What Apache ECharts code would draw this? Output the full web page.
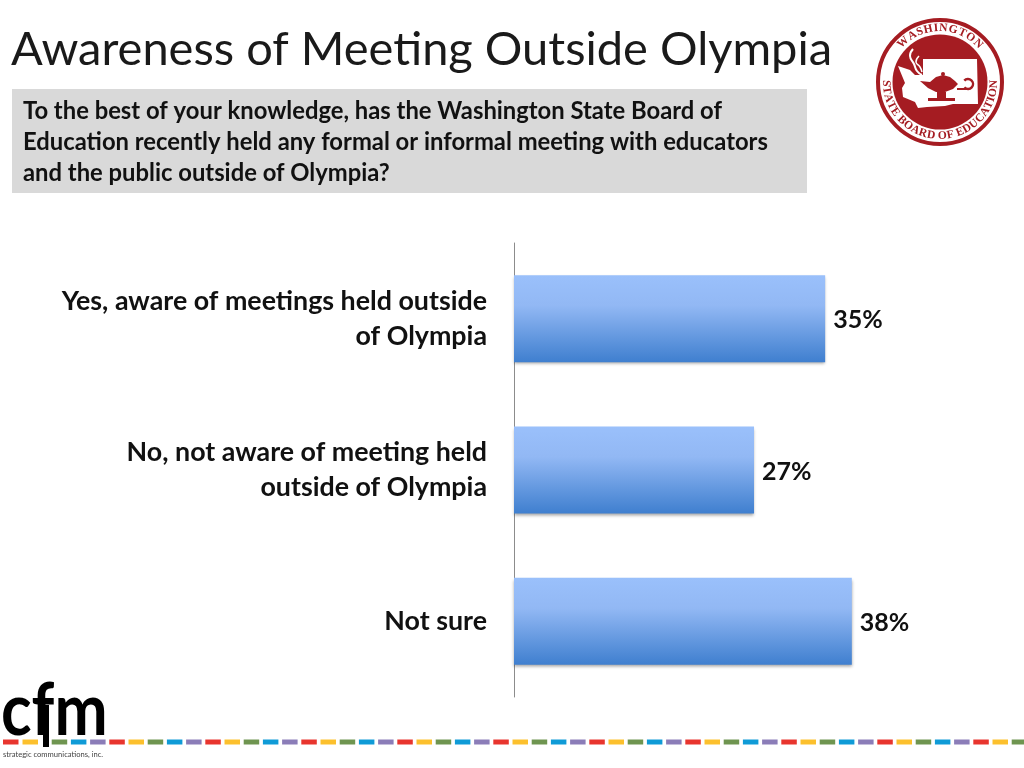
<!DOCTYPE html>
<html>
<head>
<meta charset="utf-8">
<title>Awareness of Meeting Outside Olympia</title>
<script src="https://cdn.jsdelivr.net/npm/echarts@6/dist/echarts.min.js"></script>
<style>
    html, body { margin: 0; padding: 0; background: #fff; }
    #chart { width: 1024px; height: 768px; }
</style>
</head>
<body>
<div id="chart"></div>
<script>
// chart data
const categories = ['Yes, aware of meetings held outside\nof Olympia', 'No, not aware of meeting held\noutside of Olympia', 'Not sure'];
const percents = [35, 27, 38];

// slide text
const titleText = 'Awareness of Meeting Outside Olympia';
const questionLines = [
    'To the best of your knowledge, has the Washington State Board of',
    'Education recently held any formal or informal meeting with educators',
    'and the public outside of Olympia?'
];

const FONT = 'Lato, "Open Sans", sans-serif';
const SEAL_RED = '#a51c22';
const SEAL_FONT = 'bold 11.5px "Liberation Serif", serif';
const STRIPE_COLORS = ['#e8352e', '#fcc02d', '#6f9550', '#0f9bd7', '#8b7db8'];

// text running round the seal, spaced by the width of each letter
function arcText(text, cx, cy, r, startDeg, endDeg, bottom) {
    const ctx = document.createElement('canvas').getContext('2d');
    ctx.font = SEAL_FONT;
    const widths = text.split('').map(function (ch) { return ctx.measureText(ch).width; });
    const total = widths.reduce(function (a, b) { return a + b; }, 0);
    let used = 0;
    return text.split('').map(function (ch, i) {
        const deg = startDeg + (endDeg - startDeg) * (used + widths[i] / 2) / total;
        used += widths[i];
        const a = deg * Math.PI / 180;
        return {
            type: 'text',
            x: cx + r * Math.sin(a),
            y: cy - r * Math.cos(a),
            rotation: bottom ? -(a - Math.PI) : -a,
            style: { text: ch, fill: SEAL_RED, align: 'center', verticalAlign: 'middle', font: SEAL_FONT }
        };
    });
}

// Washington State Board of Education seal
function buildSeal() {
    const cx = 940, cy = 82;
    const pieces = [
        { type: 'circle', shape: { cx: cx, cy: cy, r: 62 }, style: { fill: '#fff', stroke: SEAL_RED, lineWidth: 4 } },
        { type: 'circle', shape: { cx: cx, cy: cy, r: 47.5 }, style: { fill: SEAL_RED } },
        // state outline
        { type: 'polygon', shape: { points: [[923, 59], [977, 59], [978, 104], [953, 104], [945, 106], [927, 107], [918, 108], [915, 102], [903, 97], [902, 88], [905, 83], [898, 66], [910, 70], [915, 75], [923, 75]] }, style: { fill: '#fff' } },
        // flame
        { type: 'polyline', shape: { points: [[913, 49], [910, 56], [914, 64], [917, 71], [922, 75]], smooth: 0.5 }, style: { fill: 'none', stroke: '#fff', lineWidth: 2 } },
        { type: 'polyline', shape: { points: [[919, 56], [916, 62], [920, 67], [922, 72]], smooth: 0.5 }, style: { fill: 'none', stroke: '#fff', lineWidth: 1.5 } },
        // lamp
        { type: 'polygon', shape: { points: [[920, 81], [930, 82], [936, 77], [943, 75], [950, 77], [955, 81], [958, 84], [953, 89], [945, 92], [936, 92], [928, 88]] }, style: { fill: SEAL_RED } },
        { type: 'circle', shape: { cx: 943, cy: 74, r: 2 }, style: { fill: SEAL_RED } },
        { type: 'arc', shape: { cx: 968, cy: 84, r: 5, startAngle: -2.4, endAngle: 2.4 }, style: { fill: 'none', stroke: SEAL_RED, lineWidth: 2.5 } },
        { type: 'rect', shape: { x: 957, y: 88, width: 11, height: 2 }, style: { fill: SEAL_RED } },
        { type: 'rect', shape: { x: 937, y: 92, width: 9, height: 6 }, style: { fill: SEAL_RED } },
        { type: 'rect', shape: { x: 928, y: 98, width: 27, height: 3 }, style: { fill: SEAL_RED } }
    ];
    return pieces
        .concat(arcText('WASHINGTON', cx, cy, 54, -50, 50, false))
        .concat(arcText('STATE BOARD OF EDUCATION', cx, cy, 54, 272, 88, true));
}

// cfm logo and coloured stripe in the footer
function buildFooter() {
    const pieces = [
        { type: 'text', x: 1, y: 748, scaleX: 0.87, style: { text: 'cfm', fill: '#000', font: 'bold 73px Lato, sans-serif', verticalAlign: 'bottom', lineHeight: 73 } },
        { type: 'rect', shape: { x: 43, y: 705, width: 6, height: 42 }, style: { fill: '#000' } },
        { type: 'text', x: 3, y: 755, style: { text: 'strategic communications, inc.', fill: '#444', font: '7.6px Lato, sans-serif', verticalAlign: 'middle' } }
    ];
    const xs = [3, 22.5];
    for (let x = 51.7; x < 1024; x += 19.2) xs.push(x);
    xs.forEach(function (x, i) {
        pieces.push({ type: 'rect', shape: { x: x, y: 739.5, width: 15.5, height: 5 }, style: { fill: STRIPE_COLORS[i % 5] } });
    });
    return pieces;
}

const chart = echarts.init(document.getElementById('chart'), null, { renderer: 'canvas' });

chart.setOption({
    animation: false,
    backgroundColor: '#fff',
    textStyle: { fontFamily: FONT },
    grid: { left: 514, top: 243, width: 444.5, height: 454 },
    xAxis: { type: 'value', min: 0, max: 50, show: false },
    yAxis: {
        type: 'category',
        inverse: true,
        data: categories,
        axisTick: { show: false },
        axisLine: { lineStyle: { color: '#8c8c8c', width: 1 } },
        axisLabel: { margin: 27, color: '#111', fontSize: 26.8, fontWeight: 'bold', fontFamily: FONT, align: 'right', lineHeight: 35 }
    },
    series: [{
        type: 'bar',
        data: percents,
        barWidth: 87,
        itemStyle: {
            color: new echarts.graphic.LinearGradient(0, 0, 0, 1, [
                { offset: 0, color: '#9ac0fb' },
                { offset: 0.35, color: '#92b8f4' },
                { offset: 1, color: '#3f7fcf' }
            ]),
            shadowColor: 'rgba(0,0,0,0.35)',
            shadowBlur: 3,
            shadowOffsetY: 2
        },
        label: {
            show: true,
            position: 'right',
            distance: 8,
            offset: [0, 1.5],
            formatter: '{c}%',
            color: '#111',
            fontSize: 25,
            fontWeight: 'bold',
            fontFamily: FONT
        }
    }],
    graphic: {
        elements: [
            { type: 'text', x: 11, y: 50, style: { text: titleText, fill: '#1a1a1a', font: '47px ' + FONT, verticalAlign: 'middle' } },
            { type: 'rect', shape: { x: 12, y: 89, width: 795, height: 104 }, style: { fill: '#d9d9d9' } }
        ].concat(questionLines.map(function (line, i) {
            return { type: 'text', x: 23, y: 111 + 31 * i, style: { text: line, fill: '#111', font: 'bold 23.8px ' + FONT, verticalAlign: 'middle' } };
        })).concat(buildSeal(), buildFooter())
    }
});
</script>
</body>
</html>
